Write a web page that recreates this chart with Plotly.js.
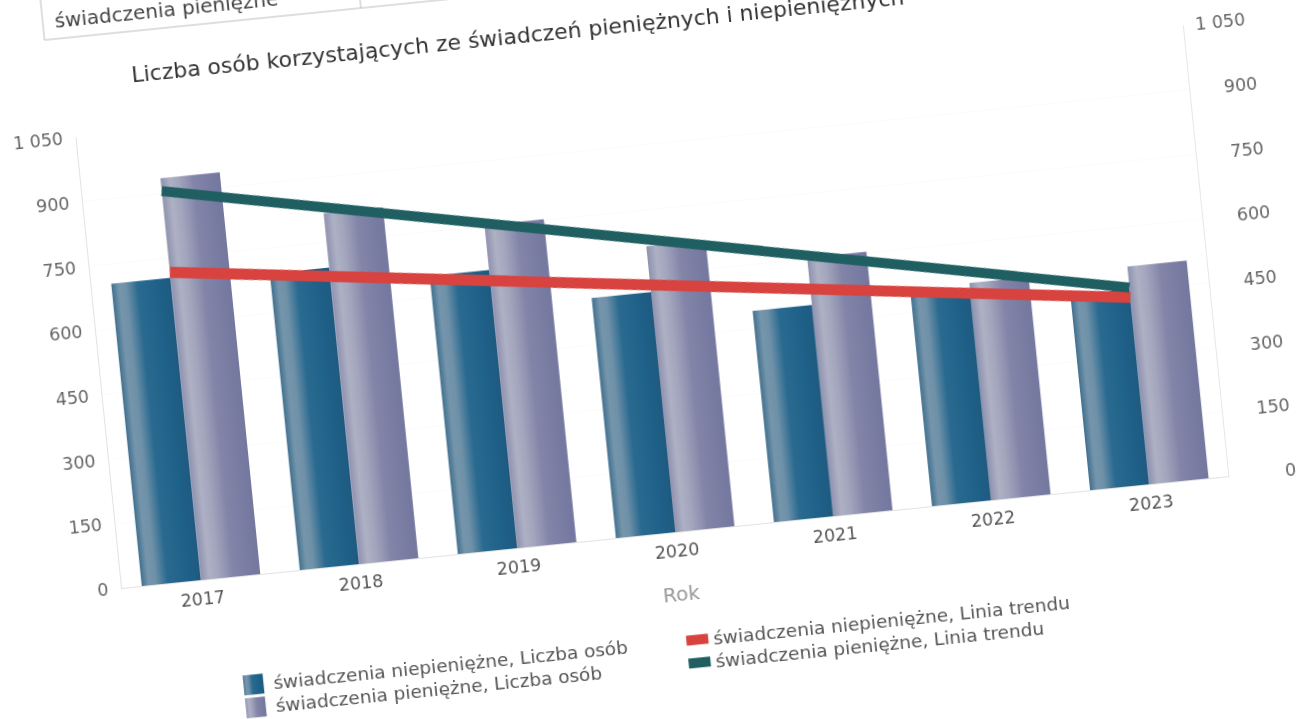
<!DOCTYPE html>
<html><head><meta charset="utf-8">
<script src="https://cdn.plot.ly/plotly-3.0.1.min.js"></script>
<style>html,body{margin:0;padding:0;background:#fff;overflow:hidden;width:1304px;height:719px}
#chart{position:absolute;left:0;top:-100px;width:1400px;height:1000px;transform-origin:122px 688px;transform:rotate(-5.77deg);filter:blur(0.4px)}</style>
</head><body>
<svg width="0" height="0" style="position:absolute"><defs>
<linearGradient id="gNp"><stop offset="0" stop-color="#40708f"/><stop offset=".12" stop-color="#7595ab"/><stop offset=".24" stop-color="#6f91a8"/><stop offset=".44" stop-color="#2a6a90"/><stop offset=".8" stop-color="#1e6088"/><stop offset="1" stop-color="#1f5a80"/></linearGradient>
<linearGradient id="gP"><stop offset="0" stop-color="#8f92af"/><stop offset=".15" stop-color="#aeb0c4"/><stop offset=".3" stop-color="#a3a5bd"/><stop offset=".55" stop-color="#8285a8"/><stop offset="1" stop-color="#74779e"/></linearGradient>
</defs></svg>
<div id="chart"></div>
<script>
const years=['2017','2018','2019','2020','2021','2022','2023'];
const niepieniezne=[704,691,648,559,492,490,455];
const pieniezne=[936,817,752,666,602,506,507];
const trendYears=['2017','2023'];
const trendNiepieniezne=[717,435];
const trendPieniezne=[906,458];
const tickVals=[0,150,300,450,600,750,900,1050];
const tickTextLeft=['0','150','300','450','600','750','900','1\u00a0050'];
const tickTextRight=['\u2007\u2007\u2007\u20070','\u2007\u2007150','\u2007\u2007300','\u2007\u2007450','\u2007\u2007600','\u2007\u2007750','\u2007\u2007900','1\u00a0050'];
const FONT='"DejaVu Sans", Verdana, sans-serif';
const traces=[
 {type:'bar',x:years,y:niepieniezne,name:'świadczenia niepieniężne, Liczba osób',marker:{color:'#2a6488',line:{width:0}},legendrank:1},
 {type:'bar',x:years,y:pieniezne,name:'świadczenia pieniężne, Liczba osób',marker:{color:'#8488aa',line:{width:0}},legendrank:3},
 {type:'scatter',mode:'lines',x:trendYears,y:trendNiepieniezne,yaxis:'y2',name:'świadczenia niepieniężne, Linia trendu',line:{color:'#d8433f',width:11},legendrank:2},
 {type:'scatter',mode:'lines',x:trendYears,y:trendPieniezne,yaxis:'y2',name:'świadczenia pieniężne, Linia trendu',line:{color:'#1f5f62',width:10},legendrank:4}
];
const layout={
 width:1400,height:1000,paper_bgcolor:'#fff',plot_bgcolor:'#fff',
 margin:{l:122,r:166,t:235,b:312,pad:0},
 font:{family:FONT,size:17.5,color:'#555'},
 barmode:'group',bargap:0.25,bargroupgap:0,showlegend:true,
 title:{text:'Liczba osób korzystających ze świadczeń pieniężnych i niepieniężnych',font:{family:FONT,size:22,color:'#333'},xref:'container',yref:'container',x:0.408,y:0.8215,xanchor:'center',yanchor:'middle'},
 xaxis:{type:'category',categoryorder:'array',categoryarray:years,showgrid:false,showline:true,linecolor:'#e2e2e2',linewidth:1,ticks:'',ticklen:0,ticklabelstandoff:3,tickfont:{size:17.5,color:'#555'},title:{text:'Rok',font:{size:20,color:'#999'},standoff:26},automargin:false},
 yaxis:{range:[0,1050],tickmode:'array',tickvals:tickVals,ticktext:tickTextLeft,gridcolor:'#fbfbfb',showline:true,linecolor:'#e2e2e2',zeroline:false,ticks:'',ticklabelstandoff:9,tickfont:{size:17.5,color:'#666'},automargin:false},
 yaxis2:{range:[0,1050],overlaying:'y',side:'right',tickmode:'array',tickvals:tickVals,ticktext:tickTextRight,showgrid:false,showline:true,linecolor:'#e2e6ee',zeroline:false,ticks:'',ticklabelstandoff:8,tickfont:{size:17.5,color:'#666'},automargin:false},
 legend:{orientation:'h',x:0.091,xanchor:'left',y:-0.2,yanchor:'top',traceorder:'normal',entrywidth:397,entrywidthmode:'pixels',font:{family:FONT,size:18.5,color:'#555'},bgcolor:'rgba(0,0,0,0)',itemclick:false,itemdoubleclick:false},
 shapes:[
  {type:'line',xref:'paper',yref:'paper',x0:-22/1112,x1:1,y0:553/453,y1:553/453,line:{color:'#bdbdbd',width:1}},
  {type:'line',xref:'paper',yref:'paper',x0:-22/1112,x1:-22/1112,y0:553/453,y1:1.4,line:{color:'#bdbdbd',width:1}},
  {type:'line',xref:'paper',yref:'paper',x0:296/1112,x1:296/1112,y0:553/453,y1:1.4,line:{color:'#bdbdbd',width:1}}
 ],
 annotations:[{text:'świadczenia pieniężne',xref:'paper',yref:'paper',x:102/1112,y:571/453,xanchor:'center',yanchor:'middle',showarrow:false,font:{family:FONT,size:20,color:'#444'}}]
};
Plotly.newPlot('chart',traces,layout,{displayModeBar:false,staticPlot:true}).then(function(){
 const root=document.getElementById('chart');
 root.querySelectorAll('.barlayer .trace').forEach(function(t,i){t.querySelectorAll('path').forEach(function(p){p.style.fill='url(#'+(i===0?'gNp':'gP')+')';});});
 const rows=Array.from(root.querySelectorAll('.legend .traces'));
 const parse=function(el){const m=/translate\(\s*([-\d.]+)[ ,]+([-\d.]+)/.exec(el.getAttribute('transform'));return [parseFloat(m[1]),parseFloat(m[2])];};
 const ys=rows.map(function(r){return parse(r)[1];});
 const y0=Math.min.apply(null,ys);
 rows.forEach(function(t){
  const pos=parse(t);
  if(pos[1]>y0+1) t.setAttribute('transform','translate('+pos[0]+','+(y0+23)+')');
  const txt=t.querySelector('text').textContent;
  if(txt.indexOf('Liczba')>=0){
   const sw=t.querySelector('.legendpoints path');
   if(sw){sw.setAttribute('d','M10,10H-10V-10H10Z');sw.style.fill='url(#'+(txt.indexOf('niepien')>=0?'gNp':'gP')+')';}
  } else {
   t.querySelectorAll('.legendlines path, .legendpoints path').forEach(function(p){p.setAttribute('d','M13,0h22');});
  }
 });
 const lg=root.querySelector('.legend .scrollbox');
 const cp=root.querySelector('.legend clipPath rect, clipPath[id*="legend"] rect');
 if(cp) cp.setAttribute('height','120');
});
</script></body></html>
